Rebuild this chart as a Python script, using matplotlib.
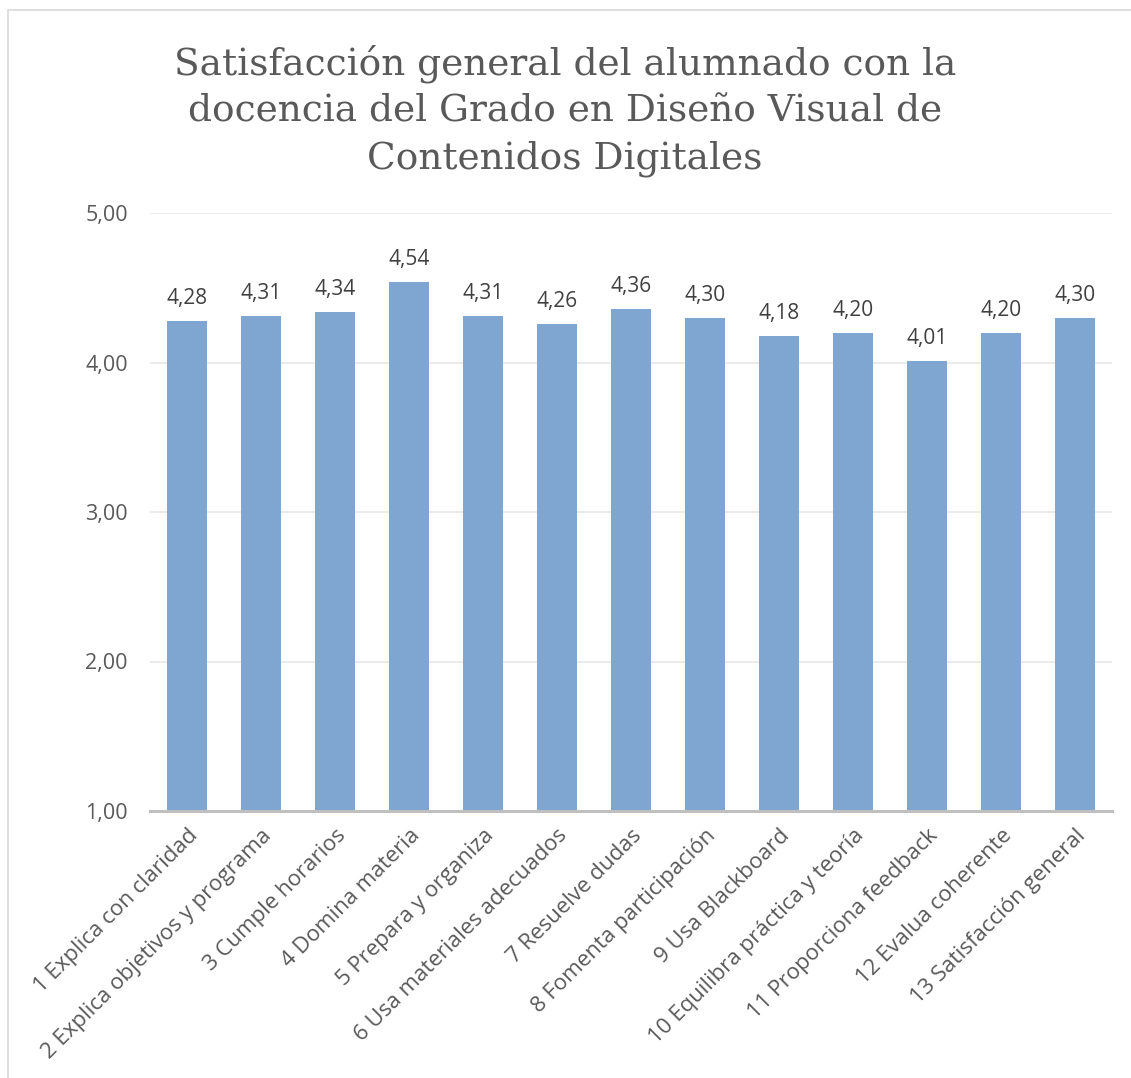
import matplotlib
matplotlib.use('Agg')
import matplotlib.pyplot as plt
from matplotlib.patches import Rectangle

categories = ['1 Explica con claridad', '2 Explica objetivos y programa', '3 Cumple horarios',
              '4 Domina materia', '5 Prepara y organiza', '6 Usa materiales adecuados',
              '7 Resuelve dudas', '8 Fomenta participación', '9 Usa Blackboard',
              '10 Equilibra práctica y teoría', '11 Proporciona feedback',
              '12 Evalua coherente', '13 Satisfacción general']
values = [4.28, 4.31, 4.34, 4.54, 4.31, 4.26, 4.36, 4.30, 4.18, 4.20, 4.01, 4.20, 4.30]
yticks = [1, 2, 3, 4, 5]

title = 'Satisfacción general del alumnado con la\ndocencia del Grado en Diseño Visual de\nContenidos Digitales'

W, H = 1131, 1078
fig = plt.figure(figsize=(W / 100, H / 100), dpi=100)
ax = fig.add_axes([150 / W, 1 - 811 / H, 962 / W, (811 - 213) / H])

x = range(len(categories))
ax.bar(x, values, width=0.54, color='#7FA6D1', zorder=2)
for i, v in enumerate(values):
    ax.text(i, v + 0.08, ('%.2f' % v).replace('.', ','), ha='center', va='bottom',
            fontsize=15, color='#404040', family='Open Sans')

ax.set_xlim(-0.5, len(categories) - 0.5)
ax.set_ylim(1, 5)
ax.set_yticks(yticks)
ax.set_yticklabels([('%.2f' % t).replace('.', ',') for t in yticks],
                   fontsize=15.5, color='#595959', family='Open Sans')
ax.yaxis.grid(True, color='#E8E8E8', linewidth=1.2, zorder=0)
ax.tick_params(axis='y', length=0, pad=16)
ax.tick_params(axis='x', length=0, pad=10)
ax.set_xticks(list(x))
ax.set_xticklabels(categories, rotation=45, ha='right', rotation_mode='anchor',
                   fontsize=16, color='#595959', family='Open Sans')
for s in ['top', 'right', 'left']:
    ax.spines[s].set_visible(False)
ax.spines['bottom'].set_color('#BFBFBF')
ax.spines['bottom'].set_linewidth(2.2)
ax.spines['bottom'].set_zorder(3)

fig.text(565 / W, 1 - 111 / H, title, ha='center', va='center', fontsize=27,
         color='#595959', family='DejaVu Serif', linespacing=1.38)

fig.patches.append(Rectangle((8 / W, -0.01), 1.1, 1 - 10 / H + 0.01, transform=fig.transFigure,
                             fill=False, edgecolor='#D9D9D9', linewidth=1.2))

fig.savefig('out.png', dpi=100)
